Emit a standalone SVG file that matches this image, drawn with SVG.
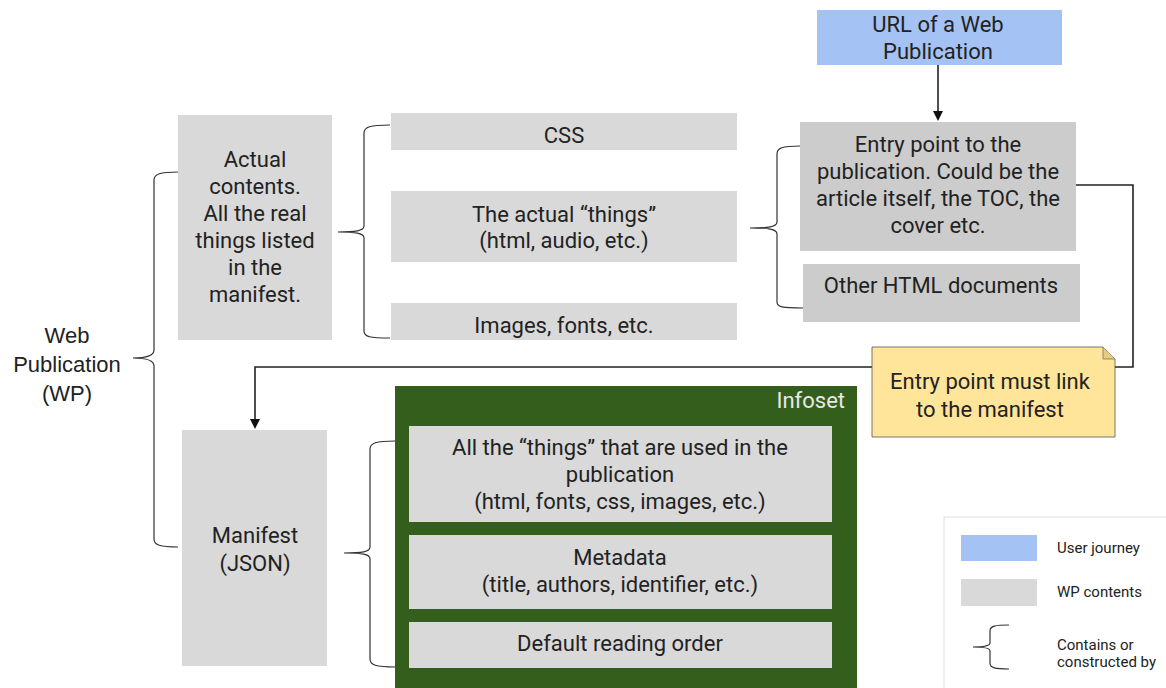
<svg xmlns="http://www.w3.org/2000/svg" width="1166" height="688" viewBox="0 0 1166 688">
<defs>
<style>
text{font-family:Roboto,"Liberation Sans",sans-serif;fill:#222;text-anchor:middle}
.t{font-size:22px}
.a{font-family:"Liberation Sans",Arial,sans-serif;font-size:22px}
.s{font-size:15px;text-anchor:start}
.box{fill:#d9d9d9}
.box2{fill:#cccccc}
.blue{fill:#a4c2f4}
.brace{fill:none;stroke:#333;stroke-width:1.2}
.conn{fill:none;stroke:#222;stroke-width:1.6}
</style>
<marker id="ah" markerWidth="10" markerHeight="10" refX="8" refY="5" orient="auto" markerUnits="userSpaceOnUse">
<path d="M0,0 L10,5 L0,10 z" fill="#111"/>
</marker>
</defs>
<rect width="1166" height="688" fill="#fff"/>

<g id="braces">
<path class="brace" d="M178,172 C160,172 154,174 154,180 L154,350 C154,356 145,358 133,358 C145,358 154,360 154,366 L154,539 C154,545 160,547 178,547"/>
<path class="brace" d="M390,125 C370,125 364,127 364,133 L364,226 C364,231 355,232 338,232 C355,232 364,233 364,238 L364,331 C364,337 370,338 390,338"/>
<path class="brace" d="M800,146 C782,146 777,148 777,154 L777,222 C777,227 768,228 750,228 C768,228 777,229 777,234 L777,302 C777,307 782,308 803,308"/>
<path class="brace" d="M395,441 C376,441 370,443 370,449 L370,547 C370,552 362,553 344,553 C362,553 370,554 370,559 L370,659 C370,665 376,667 395,667"/>
</g>

<g id="connectors">
<line class="conn" x1="938" y1="65" x2="938" y2="119" marker-end="url(#ah)"/>
<path class="conn" d="M1076,185 L1133,185 L1133,367 L255,367 L255,427" marker-end="url(#ah)"/>
</g>

<g id="wp">
<text class="a" x="67" y="343">Web</text>
<text class="a" x="67" y="372">Publication</text>
<text class="a" x="67" y="401">(WP)</text>
</g>

<g id="actual">
<rect class="box" x="178" y="115" width="154" height="225"/>
<text class="t" x="255" y="167">Actual</text>
<text class="t" x="255" y="194">contents.</text>
<text class="t" x="255" y="221">All the real</text>
<text class="t" x="255" y="248">things listed</text>
<text class="t" x="255" y="275">in the</text>
<text class="t" x="255" y="302">manifest.</text>
</g>

<g id="css">
<rect class="box" x="391" y="113" width="346" height="37"/>
<text class="t" x="564" y="143">CSS</text>
</g>
<g id="things">
<rect class="box" x="391" y="191" width="346" height="71"/>
<text class="t" x="564" y="222">The actual “things”</text>
<text class="t" x="564" y="248">(html, audio, etc.)</text>
</g>
<g id="images">
<rect class="box" x="391" y="303" width="346" height="37"/>
<text class="t" x="564" y="333">Images, fonts, etc.</text>
</g>

<g id="url">
<rect class="blue" x="817" y="10" width="245" height="55"/>
<text class="t" x="938" y="32">URL of a Web</text>
<text class="t" x="938" y="59">Publication</text>
</g>

<g id="entry">
<rect class="box2" x="800" y="122" width="276" height="129"/>
<text class="t" x="938" y="152">Entry point to the</text>
<text class="t" x="938" y="179">publication. Could be the</text>
<text class="t" x="938" y="206">article itself, the TOC, the</text>
<text class="t" x="938" y="233">cover etc.</text>
</g>

<g id="other">
<rect class="box2" x="803" y="264" width="277" height="58"/>
<text class="t" x="941" y="293">Other HTML documents</text>
</g>

<g id="note">
<path d="M872,347 L1103,347 L1115,359 L1115,437 L872,437 Z" fill="#ffe599" stroke="#555" stroke-width="0.8"/>
<path d="M1103,347 L1103,359 L1115,359" fill="#e6cc80" stroke="#555" stroke-width="0.6"/>
<text class="t" x="990" y="389">Entry point must link</text>
<text class="t" x="990" y="417">to the manifest</text>
</g>

<g id="manifest">
<rect class="box" x="182" y="430" width="145" height="236"/>
<text class="t" x="255" y="543">Manifest</text>
<text class="t" x="255" y="571">(JSON)</text>
</g>

<g id="infoset">
<rect x="395" y="386" width="462" height="302" fill="#345e1c"/>
<text class="t" x="845" y="408" style="fill:#e8e8e8;text-anchor:end">Infoset</text>
</g>
<g id="allthings">
<rect class="box" x="409" y="426" width="423" height="96"/>
<text class="t" x="620" y="455">All the “things” that are used in the</text>
<text class="t" x="620" y="482">publication</text>
<text class="t" x="620" y="509">(html, fonts, css, images, etc.)</text>
</g>
<g id="metadata">
<rect class="box" x="409" y="535" width="423" height="74"/>
<text class="t" x="620" y="565">Metadata</text>
<text class="t" x="620" y="592">(title, authors, identifier, etc.)</text>
</g>
<g id="order">
<rect class="box" x="409" y="622" width="423" height="46"/>
<text class="t" x="620" y="651">Default reading order</text>
</g>

<g id="legend">
<rect x="944" y="517" width="240" height="190" fill="#fff" stroke="#e0e0e0" stroke-width="1"/>
<rect class="blue" x="961" y="535" width="76" height="26"/>
<text class="s" x="1057" y="553">User journey</text>
<rect class="box" x="961" y="579" width="76" height="27"/>
<text class="s" x="1057" y="597">WP contents</text>
<path class="brace" d="M1009,625 C995,625 990,626 990,631 L990,643 C990,646 985,647 973,647 C985,647 990,648 990,651 L990,663 C990,668 995,669 1009,669"/>
<text class="s" x="1057" y="650">Contains or</text>
<text class="s" x="1057" y="667">constructed by</text>
</g>
</svg>
